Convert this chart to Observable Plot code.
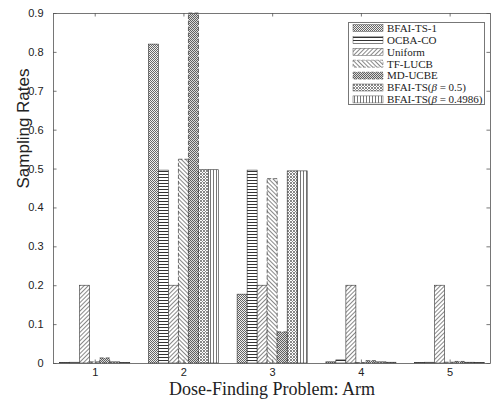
<!DOCTYPE html>
<html><head><meta charset="utf-8">
<script src="https://cdn.jsdelivr.net/npm/d3@7"></script>
<script src="https://cdn.jsdelivr.net/npm/@observablehq/plot@0.6"></script>
<style>
body{margin:0;background:#fff;}
#wrap{position:relative;width:492px;height:400px;}
#legend{position:absolute;left:348px;top:22px;}
</style>
</head><body>
<div id="wrap"></div>
<script>
// ---- data ----
const arms = [1, 2, 3, 4, 5];
const series = ["BFAI-TS-1", "OCBA-CO", "Uniform", "TF-LUCB", "MD-UCBE", "BFAI-TS(β = 0.5)", "BFAI-TS(β = 0.4986)"];
const bfaiTS1     = [0.001, 0.820, 0.177, 0.003, 0.001];
const ocbaCO      = [0.002, 0.496, 0.496, 0.008, 0.002];
const uniform     = [0.200, 0.200, 0.200, 0.200, 0.200];
const tfLUCB      = [0.003, 0.524, 0.474, 0.001, 0.002];
const mdUCBE      = [0.013, 0.900, 0.080, 0.006, 0.004];
const bfaiTS05    = [0.003, 0.497, 0.494, 0.003, 0.002];
const bfaiTS04986 = [0.001, 0.497, 0.494, 0.002, 0.001];
const yTicks = [0, 0.1, 0.2, 0.3, 0.4, 0.5, 0.6, 0.7, 0.8, 0.9];
const xLabel = "Dose-Finding Problem: Arm";
const yLabel = "Sampling Rates";

const seriesValues = [bfaiTS1, ocbaCO, uniform, tfLUCB, mdUCBE, bfaiTS05, bfaiTS04986];
const dashedSeries = ["TF-LUCB", "MD-UCBE"];
const patternIds = ["p0", "p1", "p2", "p3", "p4", "p5", "p6"];

// ---- patterns (shared defs) ----
const defsSvg = d3.select("body").append("svg").attr("width", 0).attr("height", 0)
  .style("position", "absolute").style("left", 0).style("top", 0);
const defs = defsSvg.append("defs");
function checker(id, w, bg, fg, cells) {
  const p = defs.append("pattern").attr("id", id).attr("patternUnits", "userSpaceOnUse")
    .attr("width", w).attr("height", w);
  p.append("rect").attr("width", w).attr("height", w).attr("fill", bg);
  cells.forEach(([x, y]) => p.append("rect").attr("x", x).attr("y", y).attr("width", 1).attr("height", 1).attr("fill", fg));
}
function lines(id, period, fg, rot, lw) {
  const p = defs.append("pattern").attr("id", id).attr("patternUnits", "userSpaceOnUse")
    .attr("width", period).attr("height", period);
  if (rot !== null) p.attr("patternTransform", `rotate(${rot})`);
  p.append("rect").attr("width", period).attr("height", period).attr("fill", "#fff");
  p.append("rect").attr("x", 0).attr("y", 0).attr("width", lw).attr("height", period).attr("fill", fg);
}
function hlines(id, period, fg, lw) {
  const p = defs.append("pattern").attr("id", id).attr("patternUnits", "userSpaceOnUse")
    .attr("width", 4).attr("height", period);
  p.append("rect").attr("width", 4).attr("height", period).attr("fill", "#fff");
  p.append("rect").attr("x", 0).attr("y", 0).attr("width", 4).attr("height", lw).attr("fill", fg);
}
checker("p0", 2, "#efefef", "#666", [[0, 0], [1, 1]]);
hlines("p1", 3, "#333", 1);
lines("p2", 3, "#888", 45, 1);
lines("p3", 3, "#888", -45, 1);
checker("p4", 2, "#dadada", "#606060", [[0, 0], [1, 1]]);
checker("p5", 3, "#fff", "#888", [[0, 0], [1, 1], [2, 2], [2, 0], [0, 2]]);
lines("p6", 3, "#555", null, 0.8);

// ---- table ----
const groupWidth = 0.79;
const bw = groupWidth / series.length;
const rows = [];
series.forEach((s, i) => arms.forEach((a, j) => rows.push({
  series: s, arm: a, value: seriesValues[i][j], idx: i
})));
const x1 = d => d.arm - groupWidth / 2 + d.idx * bw;
const x2 = d => d.arm - groupWidth / 2 + (d.idx + 1) * bw;

const xDom = [0.53, 5.455];
const yDom = [0, 0.9];

const chart = Plot.plot({
  width: 492, height: 400,
  marginLeft: 53, marginRight: 2, marginTop: 13, marginBottom: 37,
  style: {fontFamily: "'Liberation Sans', Arial, sans-serif", fontSize: "11px", color: "#222", background: "#fff"},
  x: {domain: xDom, axis: null},
  y: {domain: yDom, axis: null},
  color: {type: "ordinal", domain: series, range: patternIds.map(id => `url(#${id})`)},
  marks: [
    Plot.rect(rows.filter(d => !dashedSeries.includes(d.series)), {
      x1, x2, y1: 0, y2: "value", fill: "series", stroke: "#333", strokeWidth: 0.6
    }),
    Plot.rect(rows.filter(d => dashedSeries.includes(d.series)), {
      x1, x2, y1: 0, y2: "value", fill: "series", stroke: "#333", strokeWidth: 0.7, strokeDasharray: "4,2"
    }),
    Plot.frame({stroke: "#555", strokeWidth: 0.8}),
    Plot.ruleY(yTicks, {y: d => d, x1: xDom[0], x2: xDom[0] + 0.04, stroke: "#555", strokeWidth: 0.8}),
    Plot.ruleY(yTicks, {y: d => d, x1: xDom[1] - 0.04, x2: xDom[1], stroke: "#555", strokeWidth: 0.8}),
    Plot.ruleX(arms, {x: d => d, y1: 0, y2: 0.009, stroke: "#555", strokeWidth: 0.8}),
    Plot.ruleX(arms, {x: d => d, y1: 0.9, y2: 0.891, stroke: "#555", strokeWidth: 0.8}),
    Plot.axisX(arms, {tickSize: 0, tickPadding: 5, tickFormat: d => String(d), label: null, fontSize: 11, fill: "#222"}),
    Plot.axisY(yTicks, {tickSize: 0, tickPadding: 10, tickFormat: d3.format("~g"), label: null, fontSize: 11, fill: "#222"}),
    Plot.text([xLabel], {text: d => d, frameAnchor: "bottom", dy: 31, fontFamily: "'Liberation Serif', 'DejaVu Serif', serif", fontSize: 18, fill: "#222"}),
    Plot.text([yLabel], {text: d => d, frameAnchor: "left", rotate: -90, dx: -30, fontFamily: "'Liberation Sans', Arial, sans-serif", fontSize: 17, fill: "#222"})
  ]
});
document.getElementById("wrap").appendChild(chart);

// ---- legend ----
const lw = 137, lh = 83, rowH = 11.9;
const leg = d3.select("#wrap").append("svg").attr("id", "legend").attr("width", lw).attr("height", lh);
leg.append("rect").attr("x", 0.5).attr("y", 0.5).attr("width", lw - 1).attr("height", lh - 1)
  .attr("fill", "#fff").attr("stroke", "#777").attr("stroke-width", 1);
series.forEach((s, i) => {
  const cy = 6 + i * rowH;
  leg.append("rect").attr("x", 5).attr("y", cy - 3.5).attr("width", 30).attr("height", 7)
    .attr("fill", `url(#${patternIds[i]})`).attr("stroke", "#555").attr("stroke-width", 0.5)
    .attr("stroke-dasharray", dashedSeries.includes(s) ? "3,1.5" : null);
  const t = leg.append("text").attr("x", 39).attr("y", cy).attr("dy", "0.35em")
    .attr("font-family", "'Liberation Serif', 'DejaVu Serif', serif").attr("font-size", 11).attr("fill", "#222");
  const m = s.match(/^(.*\()β( = .*)$/);
  if (m) {
    t.append("tspan").text(m[1]);
    t.append("tspan").attr("font-style", "italic").text("β");
    t.append("tspan").text(m[2]);
  } else t.text(s);
});
</script>
</body></html>
